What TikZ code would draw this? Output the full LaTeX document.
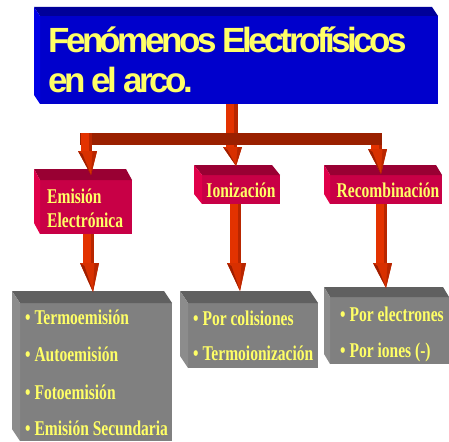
\documentclass[tikz,border=0pt]{standalone}
\usepackage{fontspec}
\usetikzlibrary{calc}
\newfontfamily\tsans[LetterSpace=-10]{Liberation Sans}
\newfontfamily\cserif[FakeStretch=0.74]{Liberation Serif}
\definecolor{yel}{HTML}{FFFF66}
\definecolor{bfront}{HTML}{0000CC}
\definecolor{btop}{HTML}{000099}
\definecolor{bside}{HTML}{0000E6}
\definecolor{cfront}{HTML}{C80046}
\definecolor{ctop}{HTML}{990033}
\definecolor{cside}{HTML}{E0004A}
\definecolor{gfront}{HTML}{808080}
\definecolor{gtop}{HTML}{606060}
\definecolor{gside}{HTML}{8C8C8C}
\definecolor{arfront}{HTML}{E33200}
\definecolor{arside}{HTML}{B82600}
\definecolor{arhead}{HTML}{D83000}
\definecolor{ardark}{HTML}{9E1E00}
\definecolor{barcol}{HTML}{9A2000}
\newcommand\facesthree[5]{%
  \fill[#2] (#1.north west) -- (#1.north east) -- ([shift={(#4,#5)}]#1.north east) -- ([shift={(#4,#5)}]#1.north west) -- cycle;
  \fill[#3] (#1.north west) -- ([shift={(#4,#5)}]#1.north west) -- ([shift={(#4,#5)}]#1.south west) -- (#1.south west) -- cycle;
}
\newcommand\arrowthree[3]{%
  \fill[arfront] let \p1=(#1),\p2=(#2) in (\x2-10pt,\y1) rectangle (\x2-2.5pt,\y2+#3pt);
  \fill[arside] let \p1=(#1),\p2=(#2) in (\x2-2.5pt,\y1) rectangle (\x2+1pt,\y2+#3pt);
  \fill[arhead] let \p2=(#2) in (\x2-13pt,\y2+#3pt) -- (\x2+6pt,\y2+#3pt) -- (\x2,\y2) -- cycle;
  \fill[ardark] let \p2=(#2) in (\x2-13pt,\y2+#3pt) -- (\x2-8.5pt,\y2+#3pt-3pt) -- (\x2,\y2) -- cycle;
  \fill[arside] let \p2=(#2) in (\x2+1.5pt,\y2+#3pt) -- (\x2+6pt,\y2+#3pt) -- (\x2,\y2) -- cycle;
}
\tikzset{
  face/.style={inner sep=0pt,outer sep=0pt,anchor=north west,draw=none},
  titletext/.style={inner sep=0pt,anchor=base west,text=yel,font=\tsans\bfseries\fontsize{35}{40}\selectfont},
  midtext/.style={inner sep=0pt,text=yel,font=\cserif\bfseries\fontsize{21}{24}\selectfont},
  bultext/.style={inner sep=0pt,anchor=base west,text=yel,font=\cserif\bfseries\fontsize{21}{24}\selectfont},
}
\begin{document}
\begin{tikzpicture}[x=1pt,y=-1pt]
\useasboundingbox (0,0) rectangle (449,441);
% title box
\node[face,fill=bfront,minimum width=398pt,minimum height=88pt] (title) at (40,16) {};
\facesthree{title}{btop}{bside}{-6}{-9}
\node[titletext] (t1a) at (48,53) {Fenómenos Electrofísicos};
\node[titletext] (t1b) at (48,93) {en el arco.};
% bar and stem
\node[face,fill=barcol,minimum width=302pt,minimum height=12pt] (bar) at (80,133) {};
\fill[arfront] let \p1=(title.south),\p2=(bar.north) in (226pt,\y1) rectangle (234pt,\y2);
\fill[arside] let \p1=(title.south),\p2=(bar.north) in (234pt,\y1) rectangle (238pt,\y2);
% middle boxes
\node[face,fill=cfront,minimum width=92pt,minimum height=54pt] (emis) at (40,180) {};
\facesthree{emis}{ctop}{cside}{-6}{-11}
\node[face,fill=cfront,minimum width=78pt,minimum height=29pt] (ioni) at (202,175) {};
\facesthree{ioni}{ctop}{cside}{-8}{-10}
\node[face,fill=cfront,minimum width=112pt,minimum height=29pt] (recomb) at (330,175) {};
\facesthree{recomb}{ctop}{cside}{-6}{-10}
\node[midtext,anchor=base west] (e1) at (47,203) {Emisión};
\node[midtext,anchor=base west] (e2) at (47,227) {Electrónica};
\node[midtext,anchor=base] (i1) at (241,197) {Ionización};
\node[midtext,anchor=base] (r1) at (388,197) {Recombinación};
% top arrows
\coordinate (tip1) at (91,175);
\coordinate (tip2) at (236,166);
\coordinate (tip3) at (381,174);
\arrowthree{bar.north west}{tip1}{24}
\arrowthree{bar.south}{tip2}{19}
\arrowthree{bar.south east}{tip3}{25}
% bottom boxes
\node[face,fill=gfront,minimum width=152pt,minimum height=138pt] (boxa) at (20,303) {};
\facesthree{boxa}{gtop}{gside}{-8}{-12}
\node[face,fill=gfront,minimum width=130pt,minimum height=65pt] (boxb) at (188,303) {};
\facesthree{boxb}{gtop}{gside}{-8}{-12}
\node[face,fill=gfront,minimum width=119pt,minimum height=67pt] (boxc) at (330,297) {};
\facesthree{boxc}{gtop}{gside}{-6}{-10}
\node[bultext] (a1) at (25,324) {• Termoemisión};
\node[bultext] (a2) at (25,361) {• Autoemisión};
\node[bultext] (a3) at (25,399) {• Fotoemisión};
\node[bultext] (a4) at (25,435) {• Emisión Secundaria};
\node[bultext] (b1) at (193,325) {• Por colisiones};
\node[bultext] (b2) at (193,360) {• Termoionización};
\node[bultext] (c1) at (340,321) {• Por electrones};
\node[bultext] (c2) at (340,357) {• Por iones (-)};
% bottom arrows
\coordinate (tip4) at (93,292);
\coordinate (tip5) at (240,291);
\coordinate (tip6) at (386,288);
\arrowthree{emis.south}{tip4}{29}
\arrowthree{ioni.south}{tip5}{28}
\arrowthree{recomb.south}{tip6}{25}
\end{tikzpicture}
\end{document}
